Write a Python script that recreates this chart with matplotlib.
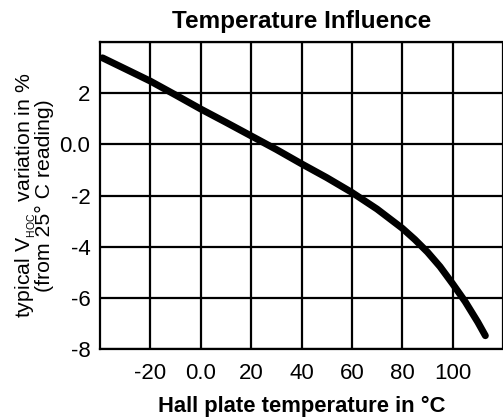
import matplotlib
matplotlib.use("Agg")
from matplotlib import pyplot as plt

plt.rcParams['font.family'] = ['Liberation Sans', 'DejaVu Sans']

# values
temperature = [-39, -30, -20, -10, 0, 10, 20, 30, 40, 50, 60, 70, 80, 85, 90, 95, 100, 105,
               110, 113]
variation = [3.38, 2.95, 2.47, 1.93, 1.38, 0.86, 0.33, -0.20, -0.76, -1.30, -1.88, -2.53,
             -3.28, -3.72, -4.21, -4.78, -5.45, -6.15, -6.95, -7.48]

x_ticks = [-20, 0, 20, 40, 60, 80, 100]
x_labels = ["-20", "0.0", "20", "40", "60", "80", "100"]
y_ticks = [-8, -6, -4, -2, 0, 2]
y_labels = ["-8", "-6", "-4", "-2", "0.0", "2"]

fig = plt.figure(figsize=(5.03, 4.17), dpi=100)
ax = fig.add_axes([100 / 503, 1 - 349 / 417, 403 / 503, 307 / 417])

ax.plot(temperature, variation, color="black", lw=5.0, solid_capstyle="round",
        solid_joinstyle="round", zorder=3)

ax.set_xlim(-40, 119)
ax.set_ylim(-8, 4)
ax.set_xticks(x_ticks + [120])
ax.set_xticklabels(x_labels + [""])
ax.set_yticks(y_ticks + [4])
ax.set_yticklabels(y_labels + [""])
ax.tick_params(length=0, labelsize=16)
ax.tick_params(axis="x", pad=10)
ax.tick_params(axis="y", pad=7)
ax.grid(True, color="black", lw=1.6)
for side, sp in ax.spines.items():
    sp.set_linewidth(1.6)
    sp.set_color("black")
ax.spines["right"].set_visible(False)

ax.set_title("Temperature Influence", fontsize=17.5, fontweight="bold", pad=10)
ax.set_xlabel("Hall plate temperature in °C", fontsize=15.8, fontweight="bold", labelpad=9)
ax.set_ylabel("typical V$_{\\mathregular{_{HOC}}}$  variation in %\n(from 25° C reading)",
              fontsize=15.3, linespacing=0.8, labelpad=4)

fig.savefig("out.png", dpi=100)
